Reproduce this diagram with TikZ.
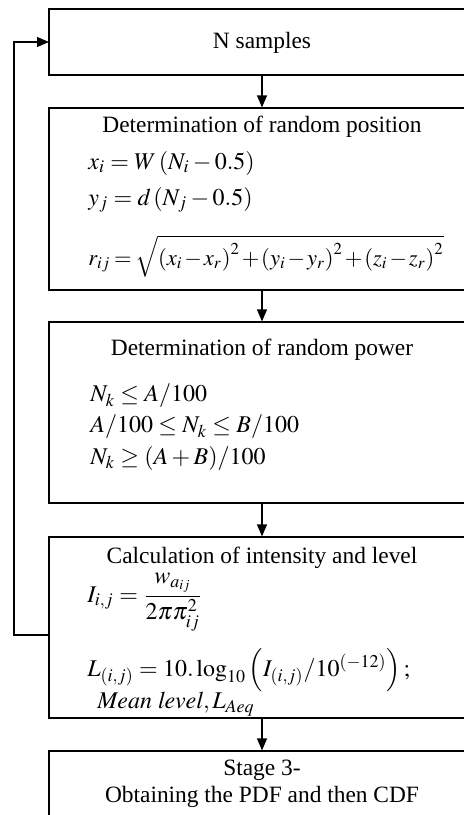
\documentclass[tikz,border=0pt]{standalone}
\usepackage{mathptmx}
\usepackage[no-math]{fontspec}
\setmainfont{Liberation Serif}
\usetikzlibrary{arrows.meta}
\tikzset{
 box/.style={draw, line width=0.6pt, minimum width=213pt, inner sep=0pt},
 ttl/.style={font=\fontsize{11.7}{13.5}\selectfont, inner sep=0pt, align=center},
 eq/.style={font=\fontsize{12}{14}\selectfont, anchor=west, inner sep=0pt},
 arr/.style={-{Triangle[length=6pt,width=5pt]}, line width=0.6pt},
}
\begin{document}
\begin{tikzpicture}[x=0.5pt,y=-0.5pt]
\useasboundingbox (0,0) rectangle (464,815);
\node[box, minimum height=33pt] (b1) at (262,42) {};
\node[box, minimum height=91pt] (b2) at (262,199) {};
\node[box, minimum height=90.5pt] (b3) at (262,412.5) {};
\node[box, minimum height=90.5pt] (b4) at (262,627.5) {};
\node[box, minimum height=42pt] (b5) at (262,793) {};

\node[ttl] (t1) at (262,43) {N samples};
\node[ttl] (t2) at (262,127) {Determination of random position};
\node[eq] (e21) at (88,163) {$x_i = W\,(N_i - 0.5)$};
\node[eq] (e22) at (88,200) {$y_j = d\,(N_j - 0.5)$};
\node[eq, font=\fontsize{11.3}{14}\selectfont] (e23) at (88,256) {$\medmuskip=1.5mu \thickmuskip=3mu r_{ij} = \sqrt{\left(x_i - x_r\right)^2 + \left(y_i - y_r\right)^2 + \left(z_i - z_r\right)^2}$};

\node[ttl] (t3) at (262,350) {Determination of random power};
\node[eq] (e31) at (90,396) {$N_k \le A/100$};
\node[eq] (e32) at (90,427) {$A/100 \le N_k \le B/100$};
\node[eq] (e33) at (90,458) {$N_k \ge (A + B)/100$};

\node[ttl] (t4) at (262,558) {Calculation of intensity and level};
\node[eq] (e41) at (87,602) {$\displaystyle I_{i,j} = \frac{w_{a_{ij}}}{2\pi\pi_{ij}^2}$};
\node[eq] (e42) at (87,670) {$L_{(i,j)} = 10.\log_{10}\left(I_{(i,j)}/10^{(-12)}\right);$};
\node[eq] (e43) at (97,704) {$\mathit{Mean\ level}, L_{Aeq}$};

\node[ttl] (t5) at (262,784) {Stage 3-\\Obtaining the PDF and then CDF};

\coordinate (fb) at (49,635);
\coordinate (fin) at (49,42);

\draw[arr] (b1.south) -- (b2.north);
\draw[arr] (b2.south) -- (b3.north);
\draw[arr] (b3.south) -- (b4.north);
\draw[arr] (b4.south) -- (b5.north);
\draw[arr] (fb) -- ++(-35,0) |- (fin);
\end{tikzpicture}
\end{document}
